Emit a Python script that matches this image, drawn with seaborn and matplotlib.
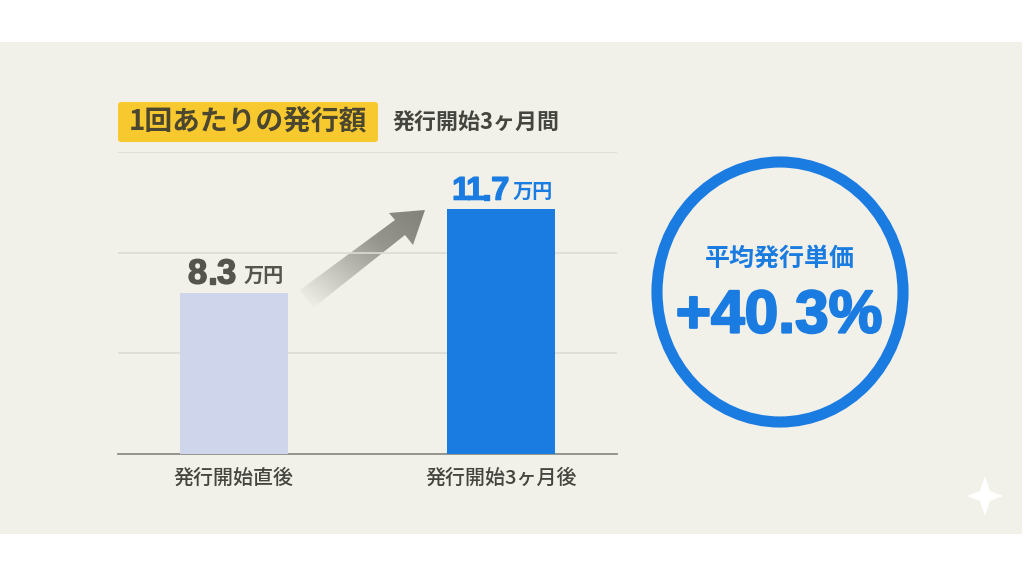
import matplotlib
matplotlib.use("Agg")
import matplotlib.pyplot as plt
import matplotlib.patheffects as pe
from matplotlib.patches import Ellipse, FancyBboxPatch, Polygon, Rectangle
import numpy as np
import pandas as pd
import seaborn as sns

# values
categories = ['発行開始直後', '発行開始3ヶ月後']
bar_heights = [7.7, 11.7]  # as drawn, the first bar is shorter than its label says
value_labels = ['8.3', '11.7']
unit_label = '万円'
grid_ticks = [0, 4.8, 9.6, 14.4]
title_text = '1回あたりの発行額'
period_text = '発行開始3ヶ月間'
badge_title = '平均発行単価'
badge_value = '+40.3%'

BLUE = '#1A7BE0'
LAVENDER = '#CFD5EA'
PANEL = '#F1F1EA'
NUM_FONT = ['Liberation Sans', 'DejaVu Sans']

sns.set_theme(style='white')
plt.rcParams['font.family'] = ['Noto Sans CJK JP', 'DejaVu Sans']

fig = plt.figure(figsize=(10.24, 5.76), dpi=100, facecolor='white')

# overlay in pixel coords for the panel and the decorations
bg = fig.add_axes([0, 0, 1, 1], zorder=0)
bg.set_xlim(0, 1024)
bg.set_ylim(576, 0)
bg.axis('off')
bg.add_patch(Rectangle((0, 42), 1022, 492, fc=PANEL, ec='none'))

# chart axes: x 118-617 px, y 152-454 px
ax = fig.add_axes([118 / 1024, 1 - 454 / 576, 499 / 1024, 302 / 576], zorder=1)
ax.patch.set_alpha(0)
df = pd.DataFrame({'category': categories, 'height': bar_heights})
sns.barplot(data=df, x='category', y='height', hue='category', palette=[LAVENDER, BLUE],
            width=0.404, legend=False, saturation=1, edgecolor='none', linewidth=0, ax=ax, zorder=3)
ax.set_xlim(-0.434, 1.434)
ax.set_ylim(0, 14.4)
ax.set_yticks(grid_ticks)
ax.set_yticklabels([])
ax.yaxis.grid(True, color='#DCDCD5', lw=1.2)
ax.set_axisbelow(True)
ax.set_xlabel('')
ax.set_ylabel('')
ax.tick_params(axis='x', length=0, pad=10, labelsize=14.4, labelcolor='#45453F')
for lab in ax.get_xticklabels():
    lab.set_fontweight('medium')
sns.despine(ax=ax, left=True, top=True, right=True)
ax.spines['bottom'].set_color('#8E8E88')
ax.spines['bottom'].set_linewidth(1.3)

# value labels over the bars, one character at a time so the 1s can sit tight
label_colors = ['#55554E', BLUE]
label_sizes = [25, 23.5]
offsets = [(-46, 2), (-49, 2)]
char_gaps = [[0, 0], [-4, -2, 0]]
unit_gaps = [7, 3]
for i, (h, val, col) in enumerate(zip(bar_heights, value_labels, label_colors)):
    prev = None
    for j, ch in enumerate(val):
        if prev is None:
            prev = ax.annotate(ch, (i, h), xytext=offsets[i], textcoords='offset pixels',
                               fontsize=label_sizes[i], fontweight='bold', family=NUM_FONT,
                               color=col, va='bottom', ha='left')
        else:
            prev = ax.annotate(ch, xy=(1, 0), xycoords=prev, xytext=(char_gaps[i][j - 1], 0),
                               textcoords='offset pixels', fontsize=label_sizes[i], fontweight='bold',
                               family=NUM_FONT, color=col, va='bottom', ha='left')
        prev.set_path_effects([pe.Stroke(linewidth=1.0, foreground=col), pe.Normal()])
    ax.annotate(unit_label, xy=(1, 0), xycoords=prev, xytext=(unit_gaps[i], 5), textcoords='offset pixels',
                fontsize=14.5, fontweight='bold', color=col, va='bottom', ha='left')

# title chip
bg.add_patch(FancyBboxPatch((120, 104), 256, 36, boxstyle='round,pad=2,rounding_size=3',
                            fc='#F8C92E', ec='none'))
bg.text(248, 122, title_text, fontsize=20, fontweight='bold', color='#4A4630',
        ha='center', va='center')
bg.text(476, 123, period_text, fontsize=15.8, fontweight='bold', color='#45453F',
        ha='center', va='center')

# gradient arrow
arrow_pts = [(300, 290), (395, 220), (389, 213), (425, 210), (413, 245), (405, 235), (313, 308)]
arrow = Polygon(arrow_pts, closed=True, fc='none', ec='none', transform=bg.transData)
bg.add_patch(arrow)
xx, yy = np.meshgrid(np.linspace(0, 1, 128), np.linspace(0, 1, 128))
grad = (xx + (1 - yy)) / 2
cmap = matplotlib.colors.LinearSegmentedColormap.from_list('arr', ['#EFEFE7', '#C2C2BB', '#96968E', '#84847C'])
im = bg.imshow(grad, extent=(300, 425, 308, 210), cmap=cmap, vmin=0.05, vmax=0.95,
               origin='upper', aspect='auto', zorder=2)
im.set_clip_path(arrow)
bg.set_xlim(0, 1024)
bg.set_ylim(576, 0)

# badge, drawn on top of the panel
bg.add_patch(Ellipse((780, 292), 246, 260, fc='none', ec=BLUE, lw=8))
bg.text(780, 259, badge_title, fontsize=18, fontweight='bold', color=BLUE, ha='center', va='center')
t = bg.text(779, 317, badge_value, fontsize=43.5, fontweight='bold', family=NUM_FONT, color=BLUE,
            ha='center', va='center')
t.set_path_effects([pe.Stroke(linewidth=1.6, foreground=BLUE), pe.Normal()])

# sparkle mark
star_x = [985, 990, 1003, 990, 985, 980, 967, 980]
star_y = [476, 491, 496, 501, 516, 501, 496, 491]
bg.add_patch(Polygon(list(zip(star_x, star_y)), closed=True, fc='white', ec='none', zorder=3))

fig.savefig('out.png', dpi=100, facecolor='white')
plt.close(fig)
